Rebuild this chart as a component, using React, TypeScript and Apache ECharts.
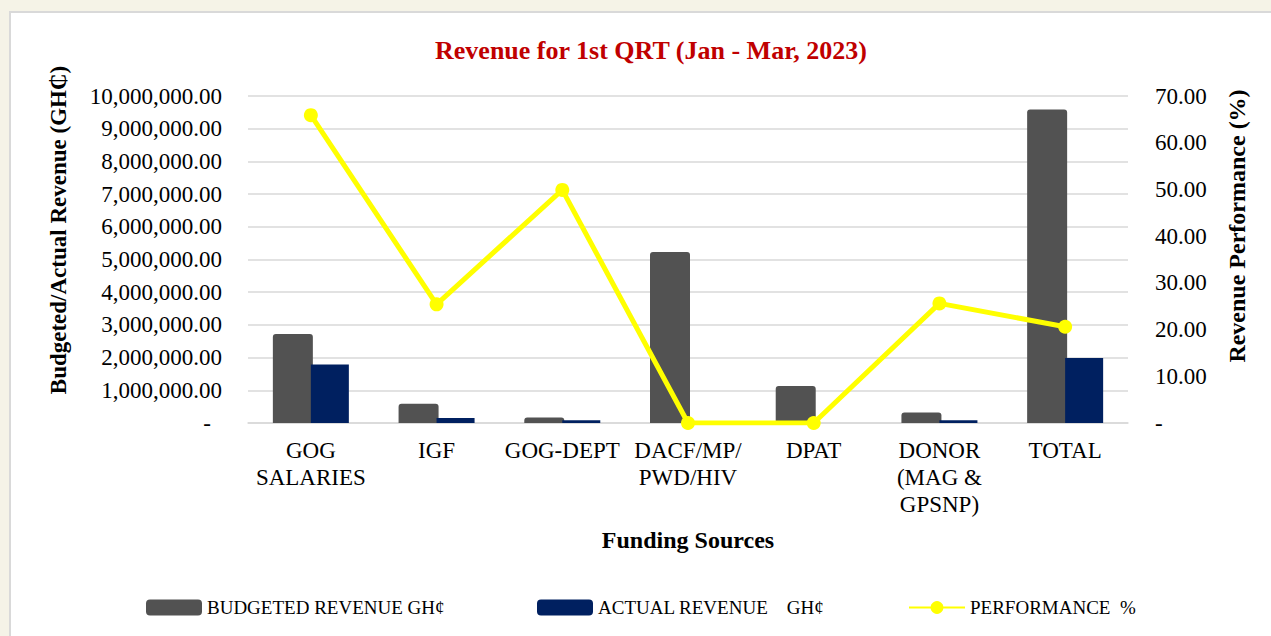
import React, { useEffect, useRef } from "react";
import * as echarts from "echarts";

const categories = [
  "GOG\nSALARIES",
  "IGF",
  "GOG-DEPT",
  "DACF/MP/\nPWD/HIV",
  "DPAT",
  "DONOR\n(MAG &\nGPSNP)",
  "TOTAL",
];
const budgeted = [2720000, 590000, 170000, 5230000, 1130000, 320000, 9590000];
const actual = [1790000, 150000, 85000, 0, 0, 82000, 1990000];
const performance = [65.9, 25.4, 49.9, 0, 0, 25.6, 20.6];

const leftMax = 10000000;
const leftInterval = 1000000;
const rightMax = 70;
const rightInterval = 10;

const FONT = "'Liberation Serif', 'Times New Roman', serif";

function fmt(v: number) {
  return v.toLocaleString("en-US", { minimumFractionDigits: 2, maximumFractionDigits: 2 });
}

export default function App() {
  const ref = useRef<HTMLDivElement>(null);
  useEffect(() => {
    if (!ref.current) return;
    const chart = echarts.init(ref.current, undefined, { renderer: "svg" });
    const legendBase = {
      top: 598,
      padding: 0,
      itemWidth: 56,
      itemHeight: 16,
      textStyle: { fontFamily: FONT, fontSize: 19, color: "#000" },
    };
    chart.setOption({
      animation: false,
      backgroundColor: "#f5f3e7",
      textStyle: { fontFamily: FONT },
      graphic: [
        {
          type: "rect",
          z: -10,
          shape: { x: 10, y: 12, width: 1280, height: 640 },
          style: { fill: "#ffffff", stroke: "#d9d9d9", lineWidth: 2 },
          silent: true,
        },
        {
          type: "text",
          x: 58,
          y: 230,
          rotation: Math.PI / 2,
          style: {
            text: "Budgeted/Actual Revenue (GH₵)",
            font: `bold 23px ${FONT}`,
            fill: "#000",
            align: "center",
            verticalAlign: "middle",
          },
        },
        {
          type: "text",
          x: 1237,
          y: 226,
          rotation: Math.PI / 2,
          style: {
            text: "Revenue Performance (%)",
            font: `bold 24px ${FONT}`,
            fill: "#000",
            align: "center",
            verticalAlign: "middle",
          },
        },
      ],
      title: {
        text: "Revenue for 1st QRT (Jan - Mar, 2023)",
        left: 646,
        textAlign: "center",
        top: 32,
        textStyle: { fontFamily: FONT, fontSize: 26, fontWeight: "bold", color: "#c00000" },
      },
      legend: [
        { ...legendBase, left: 146, data: ["BUDGETED REVENUE GH¢"] },
        { ...legendBase, left: 537, data: ["ACTUAL REVENUE    GH¢"] },
        { ...legendBase, left: 908, data: ["PERFORMANCE  %"] },
      ],
      grid: { left: 248, right: 143, top: 96, bottom: 213, containLabel: false },
      xAxis: {
        type: "category",
        data: categories,
        name: "Funding Sources",
        nameLocation: "middle",
        nameGap: 105,
        nameTextStyle: { fontFamily: FONT, fontSize: 24, fontWeight: "bold", color: "#000" },
        axisLine: { lineStyle: { color: "#d9d9d9", width: 1.5 } },
        axisTick: { show: false },
        axisLabel: {
          interval: 0,
          margin: 14,
          fontFamily: FONT,
          fontSize: 23,
          lineHeight: 27,
          color: "#000",
        },
      },
      yAxis: [
        {
          type: "value",
          min: 0,
          max: leftMax,
          interval: leftInterval,
          axisLine: { show: false },
          axisTick: { show: false },
          splitLine: { lineStyle: { color: "#d9d9d9", width: 1.5 } },
          axisLabel: {
            margin: 26,
            fontFamily: FONT,
            fontSize: 23,
            color: "#000",
            formatter: (v: number) => (v === 0 ? "{z|-}" : fmt(v)),
            rich: { z: { fontFamily: FONT, fontSize: 23, color: "#000", padding: [0, 11, 0, 0] } },
          },
        },
        {
          type: "value",
          min: 0,
          max: rightMax,
          interval: rightInterval,
          axisLine: { show: false },
          axisTick: { show: false },
          splitLine: { show: false },
          axisLabel: {
            margin: 27,
            fontFamily: FONT,
            fontSize: 23,
            color: "#000",
            formatter: (v: number) => (v === 0 ? "-" : fmt(v)),
          },
        },
      ],
      series: [
        {
          name: "BUDGETED REVENUE GH¢",
          type: "bar",
          data: budgeted,
          barWidth: 40,
          barGap: "-5%",
          itemStyle: { color: "#525252", borderRadius: [3, 3, 0, 0] },
        },
        {
          name: "ACTUAL REVENUE    GH¢",
          type: "bar",
          data: actual,
          barWidth: 38,
          itemStyle: { color: "#002060" },
        },
        {
          name: "PERFORMANCE  %",
          type: "line",
          yAxisIndex: 1,
          data: performance,
          symbol: "circle",
          symbolSize: 14,
          lineStyle: { color: "#ffff00", width: 5 },
          itemStyle: { color: "#ffff00" },
          z: 5,
        },
      ],
    });
    return () => chart.dispose();
  }, []);
  return (
    <div
      ref={ref}
      style={{ position: "absolute", left: 0, top: 0, width: 1271, height: 636 }}
    />
  );
}
